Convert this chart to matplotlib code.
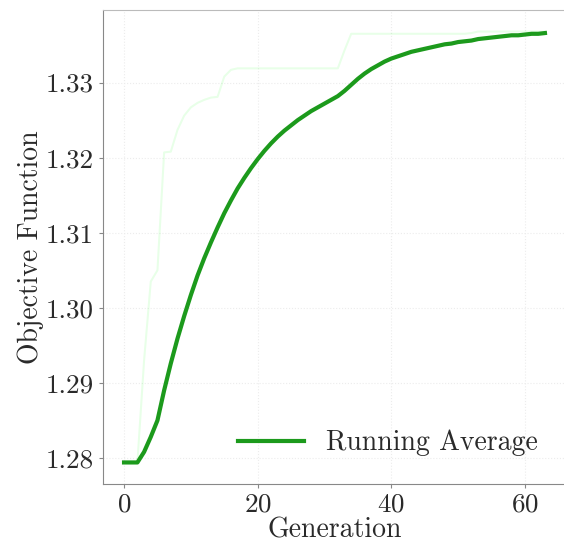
import matplotlib
matplotlib.use("Agg")
import matplotlib.pyplot as plt
import numpy as np

# Computer Modern shipped with matplotlib
plt.rcParams['font.family'] = 'cmr10'
plt.rcParams['axes.formatter.use_mathtext'] = True

generation = np.arange(64)

# best objective value found so far in each generation
best_so_far = [
    1.2794, 1.2794, 1.2794, 1.2930, 1.3035, 1.3050, 1.3207, 1.3208,
    1.3237, 1.3256, 1.3267, 1.3273, 1.3277, 1.3280, 1.3281, 1.3308,
    1.3317, 1.3319, 1.3319, 1.3319, 1.3319, 1.3319, 1.3319, 1.3319,
    1.3319, 1.3319, 1.3319, 1.3319, 1.3319, 1.3319, 1.3319, 1.3319,
    1.3319, 1.3343, 1.3365, 1.3365, 1.3365, 1.3365, 1.3365, 1.3365,
    1.3365, 1.3365, 1.3365, 1.3365, 1.3365, 1.3365, 1.3365, 1.3365,
    1.3365, 1.3365, 1.3365, 1.3365, 1.3366, 1.3368, 1.3368, 1.3368,
    1.3368, 1.3368, 1.3368, 1.3368, 1.3368, 1.3368, 1.3368, 1.3368,
]

# running average of the objective
running_avg = [
    1.2794, 1.2794, 1.2794, 1.2808, 1.2828, 1.2850, 1.2890, 1.2926,
    1.2959, 1.2989, 1.3017, 1.3043, 1.3066, 1.3087, 1.3107, 1.3126,
    1.3143, 1.3159, 1.3173, 1.3186, 1.3198, 1.3209, 1.3219, 1.3228,
    1.3236, 1.3243, 1.3250, 1.3256, 1.3262, 1.3267, 1.3272, 1.3277,
    1.3282, 1.3289, 1.3297, 1.3305, 1.3312, 1.3318, 1.3323, 1.3328,
    1.3332, 1.3335, 1.3338, 1.3341, 1.3343, 1.3345, 1.3347, 1.3349,
    1.3351, 1.3352, 1.3354, 1.3355, 1.3356, 1.3358, 1.3359, 1.3360,
    1.3361, 1.3362, 1.3363, 1.3363, 1.3364, 1.3365, 1.3365, 1.3366,
]

fig = plt.figure(figsize=(5.64, 5.48), dpi=100)
ax = fig.add_axes([103 / 564, 64 / 548, 463 / 564, 474 / 548])

ax.plot(generation, best_so_far, color='lime', alpha=0.09, lw=1.5)
ax.plot(generation, running_avg, color='#1c9a1c', lw=3.0, label='Running Average')

ax.set_xticks([0, 20, 40, 60])
ax.set_yticks([1.28, 1.29, 1.30, 1.31, 1.32, 1.33])
ax.yaxis.set_major_formatter(matplotlib.ticker.FormatStrFormatter('%.2f'))

ax.grid(True, color='#ececec', lw=0.8, ls=':')
ax.set_axisbelow(True)

for side in ['left', 'bottom']:
    ax.spines[side].set_color('#888888')
for side in ['top', 'right']:
    ax.spines[side].set_color('#bbbbbb')

ax.tick_params(labelsize=19.5, colors='#888888', labelcolor='#2a2a2a', length=3, width=0.8)
ax.set_xlabel('Generation', fontsize=20, color='#2a2a2a', labelpad=0)
ax.set_ylabel('Objective Function', fontsize=20, color='#2a2a2a', labelpad=1)

leg = ax.legend(loc='lower right', frameon=False, fontsize=20, handlelength=2.4,
                borderaxespad=0.6)
for t in leg.get_texts():
    t.set_color('#2a2a2a')

fig.savefig('out.png', dpi=100)
